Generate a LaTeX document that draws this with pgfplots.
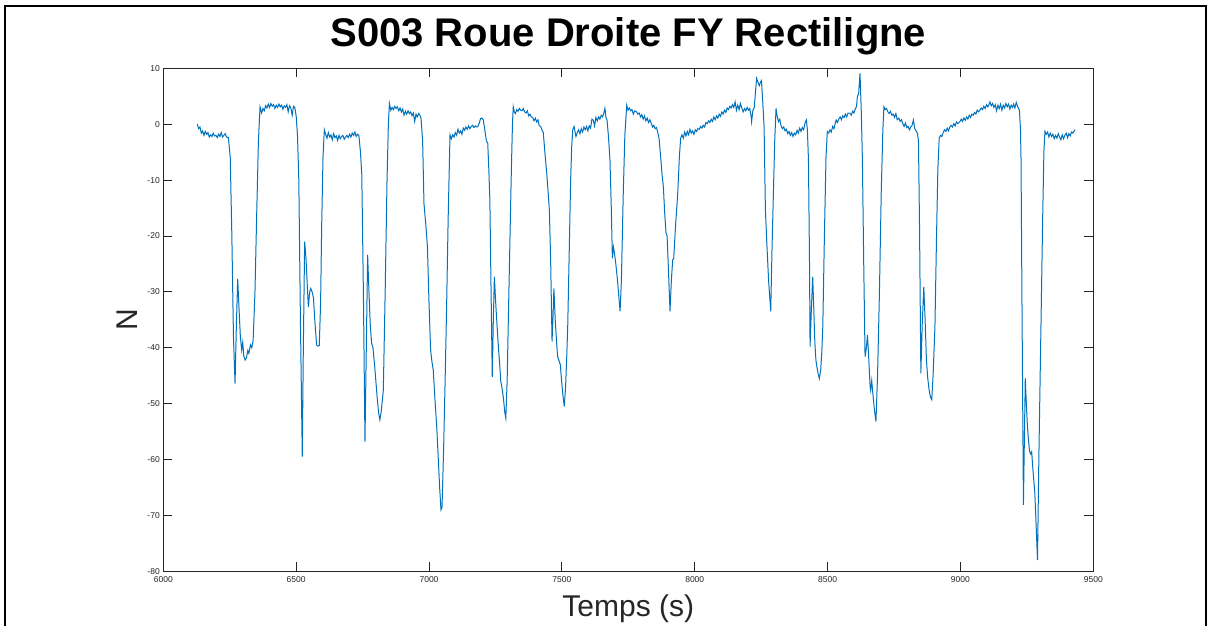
\documentclass[border=0pt]{standalone}
\usepackage{pgfplots}
\pgfplotsset{compat=1.18}
\usepackage{fontspec}
\setmainfont{Liberation Sans}
\definecolor{mblue}{RGB}{0,114,189}
\definecolor{axgray}{RGB}{38,38,38}
\begin{document}
\begin{tikzpicture}
\useasboundingbox (0pt,0pt) rectangle (1210pt,625pt);
\clip (0pt,0pt) rectangle (1210pt,625pt);
\fill[white] (0pt,0pt) rectangle (1210pt,625pt);
\draw[black, line width=2.5pt] (5pt,-20pt) rectangle (1206pt,619pt);
\begin{axis}[
  at={(163.3pt,53.7pt)}, anchor=south west,
  scale only axis, width=930pt, height=503pt,
  xmin=6000, xmax=9500, ymin=-80, ymax=10,
  xtick distance=500, ytick distance=10,
  tick align=inside, major tick length=9pt,
  axis line style={axgray, line width=0.8pt},
  every tick/.style={axgray, line width=0.8pt},
  /pgf/number format/assume math mode=true,
  /pgf/number format/1000 sep={},
  ticklabel style={font=\fontsize{8.5}{10}\selectfont, text=axgray},
  xticklabel style={yshift=-2pt},
  title={S003 Roue Droite FY Rectiligne},
  title style={at={(axis description cs:0.5,1.032)}, anchor=base, font=\fontsize{40}{44}\selectfont\bfseries},
  xlabel={Temps (s)},
  xlabel style={at={(axis description cs:0.5,-0.0895)}, anchor=base, font=\fontsize{30}{34}\selectfont, text=axgray},
  ylabel={N},
  ylabel style={at={(axis description cs:-0.028,0.5)}, anchor=base, rotate=0, font=\fontsize{30}{34}\selectfont, text=axgray},
]
\addplot[mblue, line width=1pt] coordinates {
(6128,0) (6133,-0.8) (6138,-0.5) (6143,-1.6) (6148,-1.2) (6153,-2.0) (6158,-1.3) (6163,-1.8) (6168,-1.5) (6173,-2.3) (6178,-1.9) (6183,-2.2) (6188,-1.6) (6193,-2.1) (6198,-2.0) (6203,-2.4) (6208,-1.8) (6213,-2.2) (6218,-1.5) (6223,-2.3) (6228,-2.0) (6233,-1.7) (6238,-2.3) (6245,-2.4)
(6252,-6) (6258,-20) (6264,-38) (6270,-46.4) (6275,-36) (6280,-27.7) (6285,-33) (6290,-38) (6295,-40.4) (6299,-39) (6303,-41.5) (6308,-42.2) (6313,-41.8) (6318,-40.5) (6322,-41) (6328,-39.5) (6333,-40) (6338,-38.7) (6345,-30) (6352,-15) (6358,-3) (6364,3.1)
(6370,2.0) (6375,2.8) (6380,2.4) (6385,3.3) (6390,2.9) (6395,3.6) (6400,3.0) (6405,3.7) (6410,3.2) (6415,3.5) (6420,2.8) (6425,3.4) (6430,3.0) (6435,3.6) (6440,3.1) (6445,3.4) (6450,2.7) (6455,3.3) (6460,3.0) (6465,3.5) (6470,2.2) (6475,3.3) (6480,2.9) (6485,1.6) (6490,3.2) (6495,3.0) (6500,1.5) (6505,-2) (6510,-10) (6516,-35) (6523,-59.5) (6527,-40) (6532,-21) (6537,-24) (6541,-28) (6546,-32.7) (6551,-30) (6555,-29.4) (6560,-30) (6565,-31) (6570,-35) (6577,-39.5) (6582,-39.7) (6587,-39.6) (6592,-32) (6596,-18.3) (6601,-6) (6606,-1.0)
(6611,-1.8) (6616,-2.5) (6621,-1.5) (6626,-2.3) (6631,-1.9) (6636,-2.8) (6641,-1.7) (6646,-2.4) (6651,-2.1) (6656,-2.9) (6661,-2.0) (6666,-2.6) (6671,-2.2) (6676,-2.0) (6681,-2.7) (6686,-2.3) (6691,-2.0) (6696,-2.4) (6701,-1.8) (6706,-2.3) (6711,-1.6) (6716,-2.0) (6721,-1.4) (6726,-2.2) (6731,-1.8) (6736,-2.0)
(6742,-5) (6747,-9) (6753,-30) (6759,-56.8) (6764,-40) (6769,-23.4) (6774,-30) (6779,-36) (6784,-39.2) (6789,-40) (6795,-43) (6800,-46) (6805,-49) (6810,-51.5) (6815,-52.9) (6820,-51.5) (6828,-47.6) (6835,-30) (6842,-10) (6847,0) (6851,3.7)
(6856,2.5) (6861,3.0) (6866,2.6) (6871,3.2) (6876,2.8) (6881,3.1) (6886,2.4) (6891,2.9) (6896,2.2) (6901,2.7) (6906,1.6) (6911,2.3) (6916,1.8) (6921,2.4) (6926,1.9) (6931,2.2) (6936,1.5) (6941,2.0) (6946,0.5) (6951,1.8) (6956,1.3) (6961,1.9) (6966,1.6) (6970,1.0)
(6976,-3) (6981,-14.2) (6988,-18) (6994,-21.9) (7000,-32) (7006,-40.4) (7011,-42.5) (7016,-44) (7022,-49) (7029,-54.1) (7035,-60) (7040,-65) (7045,-69) (7049,-68.5) (7055,-58) (7061,-45) (7066,-33.2) (7072,-17) (7079,-1.9)
(7084,-2.6) (7089,-1.9) (7094,-2.3) (7099,-1.5) (7104,-2.0) (7109,-0.9) (7114,-1.6) (7119,-1.2) (7124,-1.8) (7129,-0.7) (7134,-1.1) (7139,-0.5) (7144,-0.9) (7149,-0.3) (7154,-0.8) (7159,-0.4) (7164,-0.2) (7169,-0.6) (7174,-0.3) (7179,-0.5) (7184,-0.4) (7189,0.2) (7194,1.0) (7199,1.1) (7204,0.8) (7210,-1) (7216,-3) (7221,-3.4) (7225,-8) (7229,-13.6) (7233,-28) (7238,-45.2) (7242,-35) (7246,-27.3) (7251,-32) (7256,-36) (7261,-39.8) (7266,-43) (7270,-46) (7275,-47.3) (7280,-49) (7285,-51.5) (7289,-52.6) (7294,-46) (7298,-36.2) (7304,-22) (7310,-8) (7314,0) (7317,3.1)
(7321,2.2) (7325,1.9) (7330,2.6) (7335,2.3) (7340,2.8) (7345,2.5) (7350,2.4) (7355,2.8) (7360,2.2) (7365,2.0) (7370,2.4) (7375,1.5) (7380,1.8) (7385,1.3) (7390,1.2) (7395,0.6) (7400,1.1) (7405,0.4) (7410,0.8) (7415,-0.3) (7420,-0.4) (7425,-1.0) (7430,-1.5)
(7436,-5) (7443,-8.8) (7448,-12) (7453,-15.4) (7458,-25) (7463,-38.9) (7467,-34) (7470,-29.4) (7475,-35) (7480,-39) (7484,-41.6) (7489,-42.3) (7494,-43) (7499,-46) (7504,-48.5) (7509,-50.5) (7514,-47) (7518,-42) (7522,-36.2) (7528,-22) (7533,-10) (7537,-4) (7541,-1) (7546,-0.4)
(7550,-1.5) (7553,-2.2) (7558,-1.5) (7563,-1.0) (7568,-1.7) (7573,-0.8) (7578,-1.4) (7583,-0.5) (7588,-1.0) (7593,-0.4) (7598,-1.2) (7603,-0.3) (7608,-0.7) (7613,0.9) (7618,0.75) (7623,-0.3) (7628,1.2) (7633,0.6) (7638,1.3) (7643,0.9) (7648,1.6) (7653,1.3) (7658,2.0) (7662,2.84) (7666,1.2) (7670,0.7)
(7675,-2) (7681,-6.4) (7686,-15) (7690,-24) (7694,-22) (7698,-23.1) (7703,-25) (7708,-27.3) (7713,-30) (7719,-33.5) (7724,-28) (7731,-12.4) (7737,-2) (7744,3.4)
(7749,2.5) (7754,2.9) (7759,2.4) (7764,2.6) (7769,1.8) (7774,2.4) (7781,2.2) (7786,1.8) (7791,2.0) (7796,1.3) (7801,1.7) (7806,0.9) (7811,1.5) (7816,0.6) (7821,1.1) (7826,0.3) (7831,0.8) (7836,0.2) (7841,-0.5) (7846,-0.2) (7851,-0.8) (7856,-0.6) (7861,-1.5) (7866,-2.6)
(7872,-6) (7877,-9) (7882,-11.2) (7887,-16) (7892,-19.5) (7896,-20) (7901,-26) (7907,-33.5) (7912,-28) (7917,-24.3) (7921,-24) (7928,-18) (7936,-12.4) (7942,-6) (7947,-2.5)
(7952,-1.9) (7957,-2.5) (7962,-1.4) (7967,-2.1) (7972,-1.3) (7977,-1.9) (7982,-0.9) (7987,-1.6) (7992,-1.2) (7997,-1.8) (8002,-1.0) (8007,-1.3) (8012,-0.8) (8017,-0.9) (8022,-0.4) (8027,-0.7) (8032,-0.2) (8037,-0.5) (8042,0.3) (8047,0.1) (8052,0.6) (8057,0.3) (8062,0.9) (8067,0.5) (8072,1.3) (8077,0.8) (8082,1.5) (8087,1.1) (8092,1.8) (8097,1.4) (8102,2.2) (8107,1.8) (8112,2.5) (8117,2.1) (8122,2.9) (8127,2.6) (8132,3.2) (8137,2.9) (8142,3.5) (8147,3.0) (8152,4.0) (8157,2.5) (8162,3.4) (8167,2.6) (8172,3.7) (8177,2.9) (8182,2.2) (8187,2.8) (8192,2.4) (8197,3.0) (8202,2.5) (8207,2.8) (8212,1.5) (8214,0.45) (8219,2.5) (8224,3.0) (8229,6.0) (8233,8.2) (8238,7.5) (8243,6.9) (8248,7.6) (8251,7.8) (8256,4.0) (8261,-0.45) (8266,-15.4) (8272,-22) (8278,-28) (8286,-33.5) (8291,-22) (8296,-12.4) (8301,-3) (8306,2.84)
(8310,1.5) (8315,0.45) (8320,0.9) (8325,-0.3) (8330,-0.8) (8335,-0.5) (8340,-1.2) (8345,-0.9) (8350,-1.7) (8355,-1.3) (8360,-2.0) (8365,-1.5) (8370,-2.2) (8375,-1.6) (8380,-1.9) (8385,-1.1) (8390,-1.6) (8395,-0.7) (8400,-1.3) (8405,-0.6) (8410,-1.0) (8415,0.2) (8420,0.75) (8424,-1) (8428,-6.4) (8432,-25) (8434,-39.8) (8439,-33) (8444,-27.3) (8448,-33) (8452,-39) (8456,-42.2) (8460,-43.5) (8465,-44.8) (8469,-45.5) (8474,-44) (8478,-41) (8482,-36.2) (8488,-20) (8494,-6) (8499,-1.3)
(8504,-1.6) (8509,-1.0) (8514,-1.4) (8519,-0.4) (8524,-0.8) (8529,0.2) (8532,0.75) (8537,0.3) (8542,0.9) (8547,1.3) (8552,0.8) (8557,1.5) (8562,1.2) (8567,1.8) (8572,1.3) (8577,2.0) (8584,1.95) (8589,1.6) (8594,2.3) (8599,2.0) (8604,2.7) (8609,3.2) (8612,4.9) (8617,5.5) (8622,9.1) (8627,2) (8631,-6.4) (8636,-25) (8641,-41.6) (8646,-40) (8650,-37.7) (8655,-42) (8660,-47) (8662,-47.6) (8666,-45.9) (8670,-48) (8676,-51) (8682,-53.2) (8688,-45) (8695,-30.3) (8702,-12) (8708,-1) (8712,3.1)
(8717,2.6) (8722,2.8) (8727,2.2) (8732,1.9) (8737,2.3) (8742,1.6) (8747,1.8) (8752,1.2) (8757,1.9) (8762,0.8) (8768,1.1) (8773,0.5) (8778,0.8) (8783,0.1) (8788,-0.4) (8793,0.2) (8798,-0.6) (8803,-0.4) (8808,-1.0) (8813,-0.5) (8818,-0.2) (8823,0.75) (8828,-0.8) (8833,-1.2) (8838,-1.7) (8842,-2.9) (8846,-18.3) (8851,-44.6) (8856,-36) (8862,-29.1) (8867,-35) (8872,-42.2) (8877,-45.5) (8882,-47.5) (8887,-48.8) (8892,-49.3) (8897,-45) (8904,-36.2) (8910,-20) (8915,-8) (8920,-2.5)
(8925,-2.0) (8930,-2.2) (8935,-1.5) (8940,-1.0) (8945,-1.3) (8950,-0.7) (8955,-1.2) (8960,-0.5) (8965,-0.2) (8970,-0.5) (8975,0.1) (8980,-0.3) (8985,0.4) (8990,0.1) (8998,0.45) (9003,0.9) (9008,0.5) (9013,1.1) (9018,0.7) (9023,1.3) (9028,0.9) (9033,1.6) (9038,1.2) (9043,1.8) (9048,1.6) (9053,2.1) (9058,1.8) (9063,2.5) (9068,2.2) (9073,2.5) (9078,2.9) (9083,2.6) (9088,3.2) (9093,2.8) (9098,3.5) (9103,3.1) (9108,3.6) (9111,4.0) (9116,3.3) (9121,3.7) (9126,3.0) (9131,3.5) (9136,2.4) (9141,3.4) (9146,2.8) (9151,3.6) (9156,2.5) (9161,3.4) (9166,2.9) (9171,3.7) (9176,3.1) (9181,3.6) (9186,2.7) (9191,3.4) (9196,3.0) (9200,3.6) (9205,2.9) (9210,3.9) (9215,3.2) (9222,2.5) (9226,-1) (9228,-6.4) (9232,-35) (9237,-68.1) (9241,-55) (9244,-45.5) (9248,-50) (9252,-54) (9255,-55.9) (9260,-58.5) (9264,-59) (9268,-58.6) (9273,-62) (9280,-66) (9285,-72) (9290,-78) (9295,-60) (9300,-45) (9303,-36.2) (9309,-18) (9314,-5) (9318,-1.3)
(9323,-1.8) (9328,-1.4) (9333,-2.3) (9338,-1.6) (9343,-2.2) (9348,-1.8) (9353,-2.6) (9358,-2.0) (9363,-2.5) (9368,-1.7) (9373,-2.3) (9378,-2.8) (9383,-1.9) (9388,-2.6) (9393,-2.0) (9398,-1.6) (9403,-2.4) (9408,-1.7) (9413,-2.1) (9418,-1.4) (9423,-1.6) (9428,-1.2) (9432,-1.0)
};
\end{axis}
\end{tikzpicture}
\end{document}
